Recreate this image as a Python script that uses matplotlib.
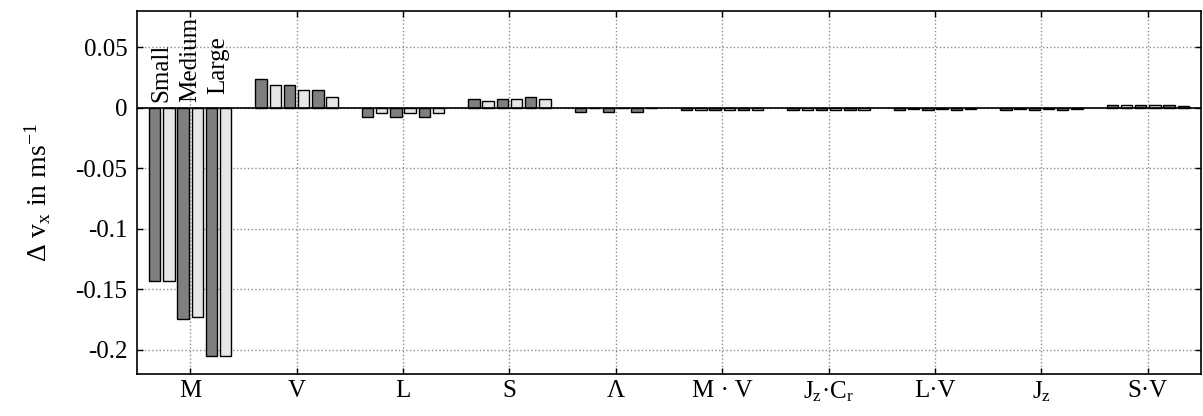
import matplotlib
matplotlib.use("Agg")
import matplotlib.pyplot as plt
import numpy as np

categories = ['M', 'V', 'L', 'S', 'Λ', 'M · V',
              r'J$_\mathrm{z}$·C$_\mathrm{r}$', 'L·V', r'J$_\mathrm{z}$', 'S·V']
small_a = [-0.143, 0.0235, -0.0078, 0.0072, -0.0036, -0.0018, -0.0018, -0.0018, -0.0018, 0.0024]
small_b = [-0.143, 0.0185, -0.0046, 0.0055, -0.0004, -0.0016, -0.0018, -0.0006, -0.0006, 0.0022]
medium_a = [-0.1745, 0.0185, -0.0078, 0.0072, -0.0036, -0.0018, -0.0018, -0.0018, -0.0018, 0.0024]
medium_b = [-0.1725, 0.0150, -0.0046, 0.0070, -0.0004, -0.0018, -0.0018, -0.0006, -0.0006, 0.0022]
large_a = [-0.205, 0.0150, -0.0078, 0.0088, -0.0036, -0.0018, -0.0018, -0.0018, -0.0018, 0.0024]
large_b = [-0.205, 0.0086, -0.0046, 0.0070, -0.0004, -0.0015, -0.0015, -0.0006, -0.0006, 0.0017]
series = [small_a, small_b, medium_a, medium_b, large_a, large_b]
size_labels = ['Small', 'Medium', 'Large']
yticks = [-0.2, -0.15, -0.1, -0.05, 0, 0.05]
ytick_labels = ['-0.2', '-0.15', '-0.1', '-0.05', '0', '0.05']

plt.rcParams['font.family'] = ['Liberation Serif', 'DejaVu Serif']
plt.rcParams['mathtext.fontset'] = 'custom'
plt.rcParams['mathtext.rm'] = 'Liberation Serif'
plt.rcParams['mathtext.it'] = 'Liberation Serif:italic'
plt.rcParams['mathtext.bf'] = 'Liberation Serif:bold'

fig = plt.figure(figsize=(12.03, 4.16), dpi=100)
ax = fig.add_axes([0.1139, 0.101, 0.8844, 0.8726])

x = np.arange(1, len(categories) + 1)
n = len(series)
slot = 0.8 / n
width = slot * 0.8
colors = ['#7f7f7f', '#e6e6e6']
for i, vals in enumerate(series):
    off = (i - (n - 1) / 2) * slot
    ax.bar(x + off, vals, width=width, color=colors[i % 2], edgecolor='black',
           linewidth=1.0, zorder=3)

ax.axhline(0, color='black', linewidth=1.2, zorder=4)

# group size labels above the M group
for k, lab in enumerate(size_labels):
    xc = x[0] + ((2 * k + 0.5) - (n - 1) / 2) * slot
    ax.text(xc, 0.0045 if k < 2 else 0.011, lab, rotation=90, ha='center', va='bottom',
            fontsize=18, zorder=5)

ax.set_xlim(0.5, 10.5)
ax.set_ylim(-0.22, 0.08)
ax.set_xticks(x)
ax.set_xticklabels(categories, fontsize=18)
ax.set_yticks(yticks)
ax.set_yticklabels(ytick_labels, fontsize=18)
ax.tick_params(direction='in', length=4, width=1, top=True, right=True)
ax.tick_params(axis='y', pad=7)
ax.tick_params(axis='x', pad=4)
ax.grid(True, color='0.55', linestyle=':', linewidth=1.0, zorder=0)
ax.set_axisbelow(True)
for s in ax.spines.values():
    s.set_linewidth(1.2)

ax.set_ylabel(r'Δ v$_\mathrm{x}$ in ms$^{-1}$', fontsize=20, labelpad=16)

fig.savefig('out.png', dpi=100)
